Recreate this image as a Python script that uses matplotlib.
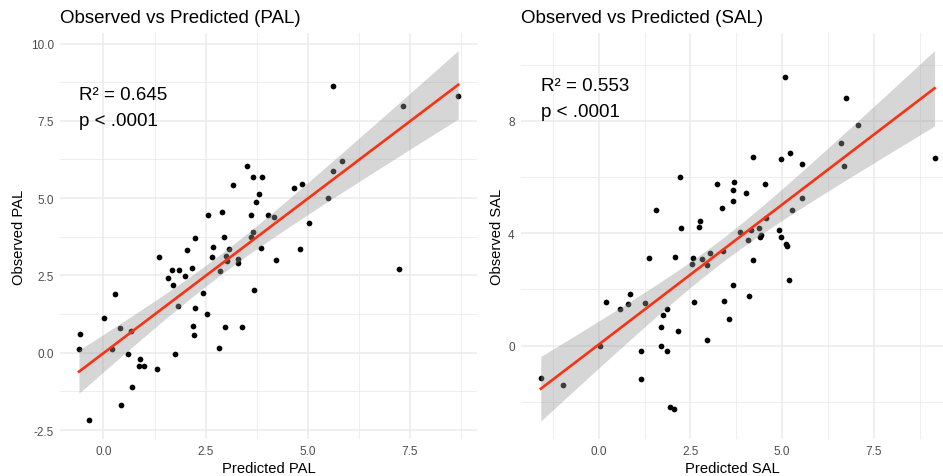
import matplotlib
matplotlib.use('Agg')
import matplotlib.pyplot as plt
import numpy as np

plt.rcParams['font.family'] = ['Liberation Sans', 'DejaVu Sans']

# PAL panel data (predicted, observed)
pal_pred = [5.61, 7.33, 8.68, 3.52, 5.83, 5.62, 3.67, 3.89, 3.16, 4.65,
            4.86, 3.81, 3.74, 5.49, 2.56, 2.90, 3.61, 4.02, 4.17, 5.04,
            3.66, 3.61, 2.94, 2.24, 2.04, 2.67, 3.07, 3.85, 4.81, 1.35,
            2.65, 3.01, 3.03, 3.29, 3.29, 4.21, 1.68, 1.86, 2.16, 2.84,
            7.23, 1.59, 2.00, 1.70, 0.29, 2.44, 3.69, 1.82, 2.24, 2.53,
            0.01, -0.58, -0.60, 0.41, 0.68, 0.22, 0.60, 0.90, 0.87, 1.00,
            1.31, 0.70, 0.43, -0.36, 1.75, 2.18, 2.22, 2.97, 3.38, 2.82]
pal_obs = [8.64, 7.99, 8.30, 6.05, 6.21, 5.88, 5.69, 5.69, 5.41, 5.33,
           5.46, 5.12, 4.87, 4.99, 4.46, 4.55, 4.47, 4.44, 4.39, 4.18,
           3.92, 3.75, 3.75, 3.71, 3.33, 3.42, 3.34, 3.38, 3.37, 3.09,
           3.09, 3.13, 2.98, 3.04, 2.89, 3.00, 2.66, 2.68, 2.73, 2.63,
           2.71, 2.42, 2.49, 2.19, 1.89, 1.93, 2.03, 1.52, 1.44, 1.24,
           1.12, 0.59, 0.12, 0.81, 0.70, 0.13, -0.04, -0.20, -0.42, -0.42,
           -0.53, -1.10, -1.70, -2.19, -0.04, 0.87, 0.58, 0.82, 0.83, 0.16]

# SAL panel data (predicted, observed)
sal_pred = [5.09, 6.74, 7.08, 6.61, 5.23, 4.20, 4.98, 9.16, 5.55, 6.70,
            2.22, 3.22, 3.69, 4.53, 3.65, 4.03, 3.65, 3.35, 5.55, 5.27,
            4.55, 1.55, 2.75, 2.73, 2.24, 3.85, 4.16, 4.36, 4.91, 4.08,
            4.43, 4.40, 4.96, 5.12, 5.13, 1.37, 2.08, 2.57, 2.83, 3.04,
            3.39, 2.54, 2.95, 4.22, 5.18, 3.66, 4.10, 0.20, 0.85, 0.80,
            0.57, 1.25, 2.59, 3.42, 1.74, 1.85, 3.54, 1.69, 2.15, 2.94,
            1.69, 1.16, 1.87, 0.04, -1.58, -0.98, 1.14, 1.94, 2.06]
sal_obs = [9.57, 8.82, 7.87, 7.22, 6.86, 6.71, 6.65, 6.67, 6.46, 6.40,
           6.01, 5.76, 5.81, 5.76, 5.53, 5.44, 5.13, 4.90, 5.27, 4.82,
           4.54, 4.82, 4.43, 4.22, 4.18, 4.06, 4.12, 4.20, 4.12, 3.76,
           3.92, 3.85, 3.85, 3.60, 3.56, 3.11, 3.16, 3.13, 3.09, 3.30,
           3.36, 2.92, 2.87, 3.06, 2.32, 2.17, 1.76, 1.56, 1.83, 1.49,
           1.30, 1.51, 1.56, 1.59, 1.10, 1.30, 0.95, 0.65, 0.53, 0.19,
           0.00, -0.18, -0.18, 0.00, -1.14, -1.40, -1.21, -2.19, -2.27]

panels = [
    dict(name='PAL', pred=pal_pred, obs=pal_obs, r2='0.645',
         rect=[60 / 943, 37 / 477, 417 / 943, 406 / 477],
         xlim=(-1.064, 9.14), ylim=(-2.79, 10.34),
         xticks=[0, 2.5, 5, 7.5], xminor=[1.25, 3.75, 6.25, 8.75],
         yticks=[-2.5, 0, 2.5, 5, 7.5, 10], yminor=[-1.25, 1.25, 3.75, 6.25, 8.75],
         ylabels=['-2.5', '0.0', '2.5', '5.0', '7.5', '10.0']),
    dict(name='SAL', pred=sal_pred, obs=sal_obs, r2='0.553',
         rect=[521 / 943, 37 / 477, 422 / 943, 406 / 477],
         xlim=(-2.12, 9.39), ylim=(-3.33, 11.13),
         xticks=[0, 2.5, 5, 7.5], xminor=[-1.25, 1.25, 3.75, 6.25, 8.75],
         yticks=[0, 4, 8], yminor=[-2, 2, 6, 10],
         ylabels=['0', '4', '8']),
]

fig = plt.figure(figsize=(9.43, 4.77), dpi=100, facecolor='white')

grid_col = '#ebebeb'
text_col = '#4d4d4d'

for p in panels:
    ax = fig.add_axes(p['rect'])
    x = np.array(p['pred'])
    y = np.array(p['obs'])

    # grid like theme_minimal
    for v in p['xticks']:
        ax.axvline(v, color=grid_col, lw=1.1, zorder=0)
    for v in p['xminor']:
        ax.axvline(v, color=grid_col, lw=0.6, zorder=0)
    for v in p['yticks']:
        ax.axhline(v, color=grid_col, lw=1.1, zorder=0)
    for v in p['yminor']:
        ax.axhline(v, color=grid_col, lw=0.6, zorder=0)

    ax.scatter(x, y, s=17, color='black', linewidths=0, zorder=2)

    # linear fit with 95% confidence band
    n = len(x)
    slope, intercept = np.polyfit(x, y, 1)
    resid = y - (slope * x + intercept)
    s_err = np.sqrt(np.sum(resid ** 2) / (n - 2))
    sxx = np.sum((x - x.mean()) ** 2)
    df = n - 2
    tcrit = 1.959964 + (1.959964 ** 3 + 1.959964) / (4 * df)
    xs = np.linspace(x.min(), x.max(), 80)
    ys = slope * xs + intercept
    half = tcrit * s_err * np.sqrt(1 / n + (xs - x.mean()) ** 2 / sxx)
    ax.fill_between(xs, ys - half, ys + half, color='#999999', alpha=0.4,
                    linewidth=0, zorder=3)
    ax.plot(xs, ys, color='#fa3214', lw=1.9, zorder=4)

    ax.set_xlim(*p['xlim'])
    ax.set_ylim(*p['ylim'])
    ax.set_xticks(p['xticks'])
    ax.set_xticklabels(['0.0', '2.5', '5.0', '7.5'])
    ax.set_yticks(p['yticks'])
    ax.set_yticklabels(p['ylabels'])
    ax.tick_params(length=0, labelsize=8.5, labelcolor=text_col, pad=4.5)
    for sp in ax.spines.values():
        sp.set_visible(False)

    ax.set_xlabel('Predicted ' + p['name'], fontsize=10.6, labelpad=3)
    ax.set_ylabel('Observed ' + p['name'], fontsize=10.6, labelpad=3)
    ax.set_title('Observed vs Predicted (' + p['name'] + ')', loc='left',
                 fontsize=13.5, pad=8)

    # R2 / p annotation at (min predicted, max observed)
    ax.annotate('R² = ' + p['r2'], xy=(x.min(), y.max()), ha='left', va='top',
                fontsize=13.5, zorder=5)
    ax.annotate('p < .0001', xy=(x.min(), y.max()), xytext=(0, -19),
                textcoords='offset points', ha='left', va='top',
                fontsize=13.5, zorder=5)

plt.savefig('out.png', dpi=100, facecolor='white')
plt.close()
